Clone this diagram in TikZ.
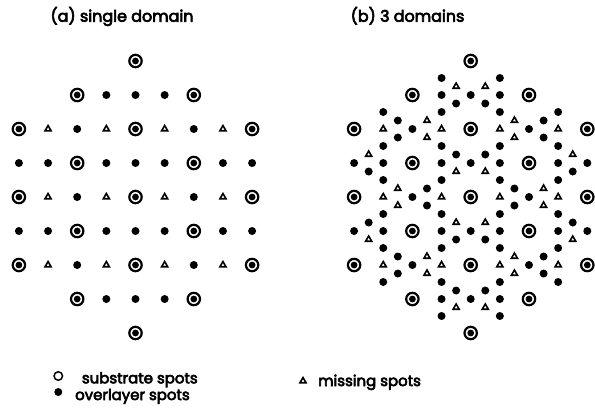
\documentclass[tikz,border=0pt]{standalone}
\usepackage{fontspec}
\setmainfont{Poppins}
\newfontfamily\txtfont{Poppins}[FakeBold=4]
\usetikzlibrary{shapes.geometric}
\def\Slist{0/-4,-2/-3,2/-3,-4/-2,0/-2,4/-2,-2/-1,2/-1,-4/0,0/0,4/0,-2/1,2/1,-4/2,0/2,4/2,-2/3,2/3,0/4}
\def\Dlist{-1/-3,0/-3,1/-3,-1/3,0/3,1/3,-4/-1,-3/-1,-1/-1,0/-1,1/-1,3/-1,4/-1,-4/1,-3/1,-1/1,0/1,1/1,3/1,4/1,-2/0,2/0,-2/-2,2/-2,-2/2,2/2}
\def\Tlist{-3/0,-1/0,1/0,3/0,-3/-2,-1/-2,1/-2,3/-2,-3/2,-1/2,1/2,3/2}
\begin{document}
\begin{tikzpicture}[x=1bp,y=-1bp,
  subspot/.style={circle,draw,line width=2.2bp,minimum size=12.4bp,inner sep=0pt,fill=white,
    path picture={\fill[black] (path picture bounding box.center) circle (3.4bp);}},
  ovspot/.style={circle,fill=black,minimum size=8bp,inner sep=0pt},
  misspot/.style={regular polygon,regular polygon sides=3,draw,line width=1.6bp,minimum size=7bp,inner sep=0pt},
  legsub/.style={circle,draw,line width=1.5bp,minimum size=8.5bp,inner sep=0pt},
  txt/.style={font=\txtfont\fontsize{15}{18}\selectfont,inner sep=0pt},
  ttl/.style={font=\txtfont\fontsize{16}{19}\selectfont,inner sep=0pt}]
\useasboundingbox (0,0) rectangle (595,407);
% titles
\node[ttl,anchor=base] (ta) at (122,21.7) {(a) single domain};
\node[ttl,anchor=base] (tb) at (407.5,21.7) {(b) 3 domains};
% panel (a)
\begin{scope}[shift={(135.5,197)},x={(29.15bp,0bp)},y={(0bp,-34bp)}]
  \foreach \i/\j in \Dlist {\node[ovspot] (a-d-\i-\j) at (\i,\j) {};}
  \foreach \i/\j in \Tlist {\node[misspot] (a-t-\i-\j) at (\i,\j) {};}
  \foreach \i/\j in \Slist {\node[subspot] (a-s-\i-\j) at (\i,\j) {};}
\end{scope}
% panel (b)
\begin{scope}[shift={(470.7,197)},x={(29.15bp,0bp)},y={(0bp,-34bp)}]
  \foreach \i/\j in \Dlist {
    \node[ovspot] (b-d0-\i-\j) at (\i,\j) {};
    \node[ovspot] (b-d1-\i-\j) at ({-\i/2-\j},{3*\i/4-\j/2}) {};
    \node[ovspot] (b-d2-\i-\j) at ({-\i/2+\j},{-3*\i/4-\j/2}) {};
  }
  \foreach \i/\j in \Tlist {
    \node[misspot] (b-t0-\i-\j) at (\i,\j) {};
    \node[misspot] (b-t1-\i-\j) at ({-\i/2-\j},{3*\i/4-\j/2}) {};
    \node[misspot] (b-t2-\i-\j) at ({-\i/2+\j},{-3*\i/4-\j/2}) {};
  }
  \foreach \i/\j in \Slist {\node[subspot] (b-s-\i-\j) at (\i,\j) {};}
\end{scope}
% legend
\node[legsub] (lsub) at (58.3,376) {};
\node[txt,anchor=base west] (lsubt) at (81.7,383.3) {substrate spots};
\node[ovspot] (lov) at (58.3,392) {};
\node[txt,anchor=base west] (lovt) at (75,400) {overlayer spots};
\node[misspot] (lmis) at (303,381) {};
\node[txt,anchor=base west] (lmist) at (318,386) {missing spots};
\end{tikzpicture}
\end{document}
